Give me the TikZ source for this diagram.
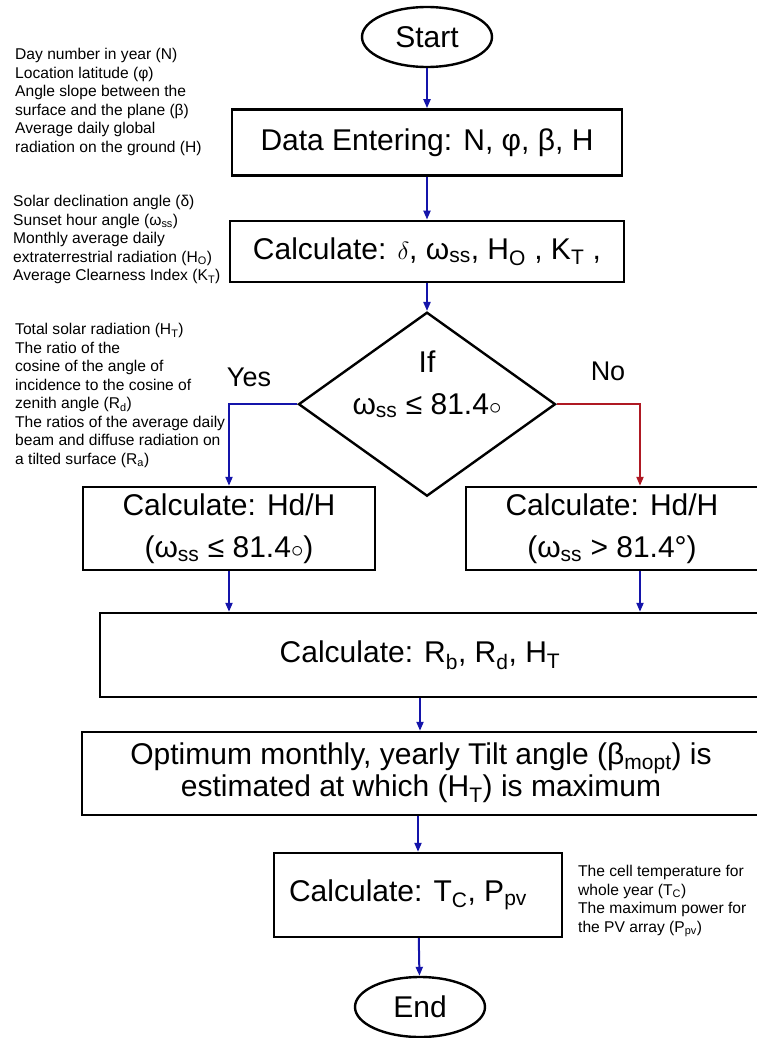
\documentclass[tikz,border=0pt]{standalone}
\usepackage{fontspec}
\setmainfont{Liberation Sans}
\usetikzlibrary{arrows.meta,positioning,shapes.geometric,fit}
\definecolor{flowblue}{RGB}{20,20,170}
\definecolor{nored}{RGB}{175,25,35}
\newcommand{\subtxt}[1]{\textsubscript{#1}}
\tikzset{
  box/.style={draw, line width=2.4pt, align=center, inner sep=0pt,
              font=\fontsize{30}{36}\selectfont},
  term/.style={box, ellipse, minimum width=130pt, minimum height=60pt},
  proc/.style={box, minimum height=66pt},
  dec/.style={box, diamond, minimum width=257pt, minimum height=184pt},
  txt/.style={align=center, inner sep=0pt, font=\fontsize{30}{36}\selectfont},
  twoline/.style={font=\fontsize{30}{42}\selectfont},
  note/.style={align=left, inner sep=0pt, anchor=north west,
               font=\fontsize{15.6}{18.5}\selectfont},
  lbl/.style={inner sep=0pt, font=\fontsize{27}{30}\selectfont},
  flow/.style={-{Triangle[length=9pt,width=7pt]}, line width=2pt, flowblue},
  noflow/.style={flow, nored},
}
\begin{document}
\begin{tikzpicture}[x=1pt, y=-1pt, node distance=40pt]
  \useasboundingbox (0,0) rectangle (756,1038);
  % main column
  \node[term] (start) at (427,37) {Start};
  \node[proc, minimum width=390pt, below=40pt of start] (data)
    {Data Entering: N, φ, β, H};
  \node[proc, minimum width=394pt, minimum height=61pt, below=43pt of data] (calc)
    {Calculate: $\delta$, ω\subtxt{ss}, H\subtxt{O} , K\subtxt{T} ,};
  \node[dec, below=28pt of calc] (if) {};
  \node[txt, twoline, yshift=20pt] (iftxt) at (if.center) {If\\ω\subtxt{ss} ≤ 81.4$\circ$};
  % two branches
  \node[proc, twoline, minimum width=292pt, minimum height=83pt] (hdl) at (229,528.5)
    {Calculate: Hd/H\\(ω\subtxt{ss} ≤ 81.4$\circ$)};
  \node[txt, twoline] (hdrtxt) at (612,528.5) {Calculate: Hd/H\\(ω\subtxt{ss} > 81.4°)};
  \node[box, fit={(466,487) (814,570)}] (hdr) {};
  % wide boxes
  \node[txt] (rbtxt) at (420,655) {Calculate: R\subtxt{b}, R\subtxt{d}, H\subtxt{T}};
  \node[box, fit={(100,613) (800,697)}] (rb) {};
  \node[txt, font=\fontsize{30}{32}\selectfont] (opttxt) at (421,773)
    {Optimum monthly, yearly Tilt angle (β\subtxt{mopt}) is\\estimated at which (H\subtxt{T}) is maximum};
  \node[box, fit={(82,732) (800,815)}] (opt) {};
  \node[txt] (tctxt) at (408,895) {Calculate: T\subtxt{C}, P\subtxt{pv}};
  \node[box, fit={(274,853) (562,937)}] (tc) {};
  \node[term] (end) at (420,1007) {End};
  % connectors
  \draw[flow] (start) -- (data);
  \draw[flow] (data) -- (calc);
  \draw[flow] (calc) -- (if);
  \draw[flow] (if.west) -| (hdl.north);
  \draw[noflow] (if.east) -| (hdr.north);
  \draw[flow] (hdl.south) -- (hdl.south |- rb.north);
  \draw[flow] (hdr.south) -- (hdr.south |- rb.north);
  \draw[flow] (rb.south -| rbtxt) -- (opt.north -| rbtxt);
  \draw[flow] (opt.south -| tc) -- (tc);
  \draw[flow] (tc) -- (end);
  \node[lbl] (yes) at (249,377) {Yes};
  \node[lbl] (no) at (608,371) {No};
  % side notes
  \node[note] (notedata) at (15,48)
    {Day number in year (N)\\Location latitude (φ)\\Angle slope between the\\surface and the plane (β)\\Average daily global\\radiation on the ground (H)};
  \node[note] (notecalc) at (13,195)
    {Solar declination angle (δ)\\Sunset hour angle (ω\subtxt{ss})\\Monthly average daily\\extraterrestrial radiation (H\subtxt{O})\\Average Clearness Index (K\subtxt{T})};
  \node[note] (noteif) at (15,323)
    {Total solar radiation (H\subtxt{T})\\The ratio of the\\cosine of the angle of\\incidence to the cosine of\\zenith angle (R\subtxt{d})\\The ratios of the average daily\\beam and diffuse radiation on\\a tilted surface (R\subtxt{a})};
  \node[note] (notetc) at (578,865)
    {The cell temperature for\\whole year (T\subtxt{C})\\The maximum power for\\the PV array (P\subtxt{pv})};
\end{tikzpicture}
\end{document}
